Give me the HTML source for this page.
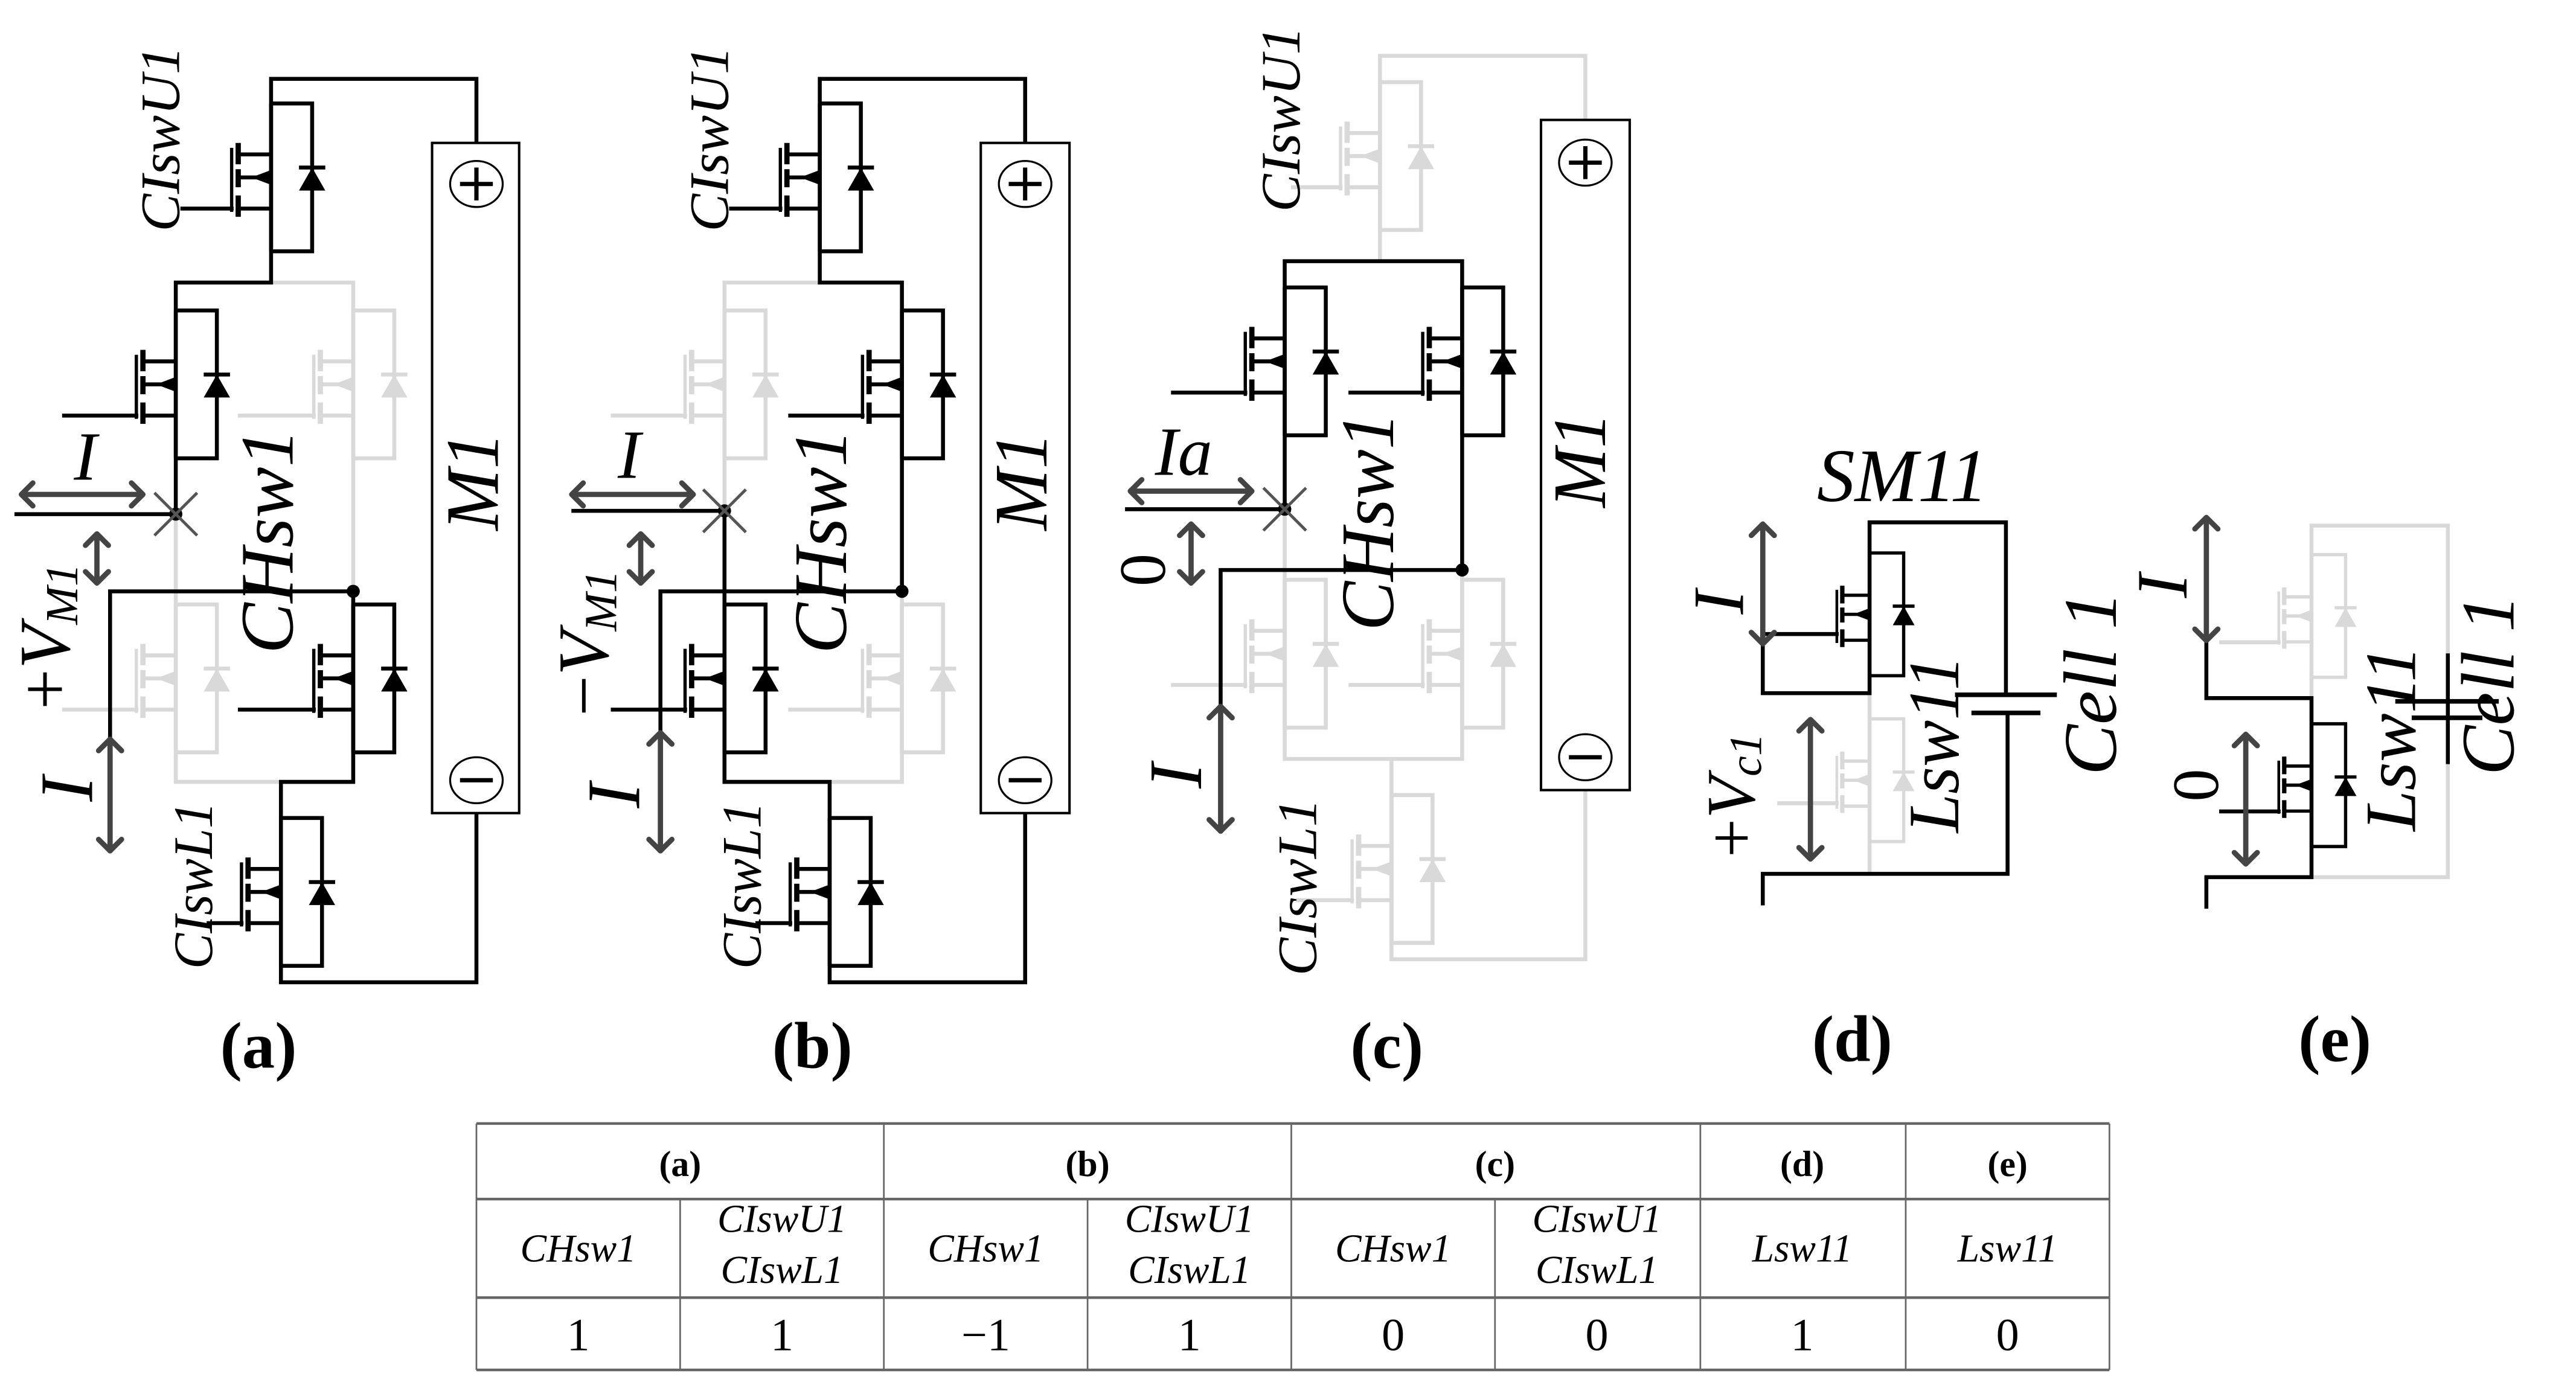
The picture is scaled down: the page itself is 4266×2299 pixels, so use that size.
<!DOCTYPE html>
<html><head><meta charset="utf-8">
<style>
html,body{margin:0;padding:0;background:#fff;}
svg{display:block;}
.w{fill:none;stroke:#000;stroke-width:2.4;stroke-linecap:square;stroke-linejoin:miter}
.g{fill:none;stroke:#d9d9d9;stroke-width:2.4;stroke-linecap:square}
.a{fill:none;stroke:#444;stroke-width:3.2;stroke-linecap:round;stroke-linejoin:round}
.x{stroke:#555;stroke-width:1.8}
text{font-family:"Liberation Serif",serif;}
.it{font-style:italic}
.t{font-family:"Liberation Serif",serif;}
</style></head>
<body>
<svg width="4266" height="2299" viewBox="0 0 1568 845" xmlns="http://www.w3.org/2000/svg">
<defs>
<g id="m">
  <path d="M0,-45 V45 M0,-45 H25 V45 H0 M-20,-14 H0 M-20,19 H0 M-20,0 H-4" fill="none" stroke="currentColor" stroke-width="2.4"/>
  <polygon points="-12,0 0,-4.5 0,4.5" fill="currentColor"/>
  <path d="M-20,-21 V-8 M-20,-5 V6 M-20,11 V24" stroke="currentColor" stroke-width="3.2" fill="none"/>
  <path d="M-24,-18 V21" stroke="currentColor" stroke-width="2" fill="none"/>
  <polygon points="17,8 33,8 25,-6" fill="currentColor"/>
  <path d="M17,-6 H33" stroke="currentColor" stroke-width="2.4"/>
</g>
</defs>
<rect width="1568" height="845" fill="#fff"/>

<!-- ===== Panel (a) ===== -->
<path class="g" d="M165,172 H215 V360 M107,313 V476 H171 M146,253 H191 M39,432 H83"/>
<g style="color:#d9d9d9"><use href="#m" transform="translate(215,234)"/><use href="#m" transform="translate(107,413)"/></g>
<path class="w" d="M165,48 H290 V87 M290,495 V598 H171 M165,48 V172 M107,172 H165 M107,172 V313 M10,313 H107 M67,518 V360 H215 M215,360 V476 M171,476 H215 M171,476 V598 M111,127 H141 M39,253 H83 M146,432 H191 M127,562 H147"/>
<g style="color:#000"><use href="#m" transform="translate(165,108)"/><use href="#m" transform="translate(107,234)"/><use href="#m" transform="translate(215,413)"/><use href="#m" transform="translate(171,543)"/></g>
<circle cx="107" cy="313" r="4"/><circle cx="215" cy="360" r="4"/>
<path class="x" d="M94,300 L120,326 M120,300 L94,326"/>
<path class="a" d="M13,301 H87 M20,294 L13,301 L20,308 M80,294 L87,301 L80,308"/>
<path class="a" d="M59,325 V355 M52,332 L59,325 L66,332 M52,348 L59,355 L66,348"/>
<path class="a" d="M67,450 V518 M60,457 L67,450 L74,457 M60,511 L67,518 L74,511"/>
<rect x="263" y="87" width="53" height="408" fill="#fff" stroke="#000" stroke-width="1.5"/>
<ellipse cx="290" cy="112" rx="16" ry="14" fill="none" stroke="#000" stroke-width="1.2"/>
<path d="M280,112 H300 M290,102 V122" stroke="#000" stroke-width="2.6"/>
<ellipse cx="290" cy="475" rx="16" ry="14" fill="none" stroke="#000" stroke-width="1.2"/>
<path d="M280,475 H300" stroke="#000" stroke-width="2.6"/>

<text class="it" font-size="34" transform="translate(109,141) rotate(-90)" textLength="113" lengthAdjust="spacingAndGlyphs">CIswU1</text>
<text class="it" font-size="46" transform="translate(178,398) rotate(-90)" textLength="137" lengthAdjust="spacingAndGlyphs">CHsw1</text>
<text class="it" font-size="34" transform="translate(129,590) rotate(-90)" textLength="102" lengthAdjust="spacingAndGlyphs">CIswL1</text>
<text class="it" font-size="46" transform="translate(303,323) rotate(-90)" textLength="60" lengthAdjust="spacingAndGlyphs">M1</text>
<text class="it" font-size="46" transform="translate(56,488) rotate(-90)">I</text>
<text class="it" font-size="42" x="45" y="292">I</text>
<text font-size="44" transform="translate(42,432) rotate(-90)">+<tspan class="it">V</tspan><tspan class="it" font-size="28" dy="5">M1</tspan></text>
<text font-size="40" font-weight="bold" x="134" y="650">(a)</text>

<!-- ===== Panel (b) ===== -->
<path class="g" d="M441,172 H499 M441,172 V311 M549,360 V476 H505 M373,253 H417 M481,432 H525"/>
<g style="color:#d9d9d9"><use href="#m" transform="translate(441,234)"/><use href="#m" transform="translate(549,413)"/></g>
<path class="w" d="M499,48 H624 V87 M624,495 V598 H505 M499,48 V172 H549 M549,172 V360 M349,311 H441 M402,518 V360 H549 M441,311 V476 H505 M505,476 V598 M445,127 H475 M481,253 H525 M373,432 H417 M461,562 H481"/>
<g style="color:#000"><use href="#m" transform="translate(499,108)"/><use href="#m" transform="translate(549,234)"/><use href="#m" transform="translate(441,413)"/><use href="#m" transform="translate(505,543)"/></g>
<circle cx="441" cy="311" r="4"/><circle cx="549" cy="360" r="4"/>
<path class="x" d="M428,298 L454,324 M454,298 L428,324"/>
<path class="a" d="M348,301 H422 M355,294 L348,301 L355,308 M415,294 L422,301 L415,308"/>
<path class="a" d="M390,325 V355 M383,332 L390,325 L397,332 M383,348 L390,355 L397,348"/>
<path class="a" d="M402,446 V518 M395,453 L402,446 L409,453 M395,511 L402,518 L409,511"/>
<rect x="597" y="87" width="54" height="408" fill="#fff" stroke="#000" stroke-width="1.5"/>
<ellipse cx="624" cy="112" rx="16" ry="14" fill="none" stroke="#000" stroke-width="1.2"/>
<path d="M614,112 H634 M624,102 V122" stroke="#000" stroke-width="2.6"/>
<ellipse cx="624" cy="475" rx="16" ry="14" fill="none" stroke="#000" stroke-width="1.2"/>
<path d="M614,475 H634" stroke="#000" stroke-width="2.6"/>

<text class="it" font-size="34" transform="translate(443,141) rotate(-90)" textLength="113" lengthAdjust="spacingAndGlyphs">CIswU1</text>
<text class="it" font-size="46" transform="translate(515,398) rotate(-90)" textLength="137" lengthAdjust="spacingAndGlyphs">CHsw1</text>
<text class="it" font-size="34" transform="translate(463,590) rotate(-90)" textLength="102" lengthAdjust="spacingAndGlyphs">CIswL1</text>
<text class="it" font-size="46" transform="translate(637,323) rotate(-90)" textLength="60" lengthAdjust="spacingAndGlyphs">M1</text>
<text class="it" font-size="46" transform="translate(389,492) rotate(-90)">I</text>
<text class="it" font-size="42" x="376" y="291">I</text>
<text font-size="44" transform="translate(370,436) rotate(-90)">−<tspan class="it">V</tspan><tspan class="it" font-size="28" dy="5">M1</tspan></text>
<text font-size="40" font-weight="bold" x="470" y="650">(b)</text>

<!-- ===== Panel (c) ===== -->
<path class="g" d="M840,34 H965 V73 M965,481 V584 H847 M840,34 V159 M782,310 V462 H890 M890,347 V462 M847,462 V584 M787,114 H816 M714,417 H758 M822,417 H866 M790,548 H823"/>
<g style="color:#d9d9d9"><use href="#m" transform="translate(840,95)"/><use href="#m" transform="translate(782,398)"/><use href="#m" transform="translate(890,398)"/><use href="#m" transform="translate(847,529)"/></g>
<path class="w" d="M782,159 H890 M782,159 V310 M890,159 V347 M686,310 H782 M743,506 V347 H890 M714,239 H758 M822,239 H866"/>
<g style="color:#000"><use href="#m" transform="translate(782,220)"/><use href="#m" transform="translate(890,220)"/></g>
<circle cx="782" cy="310" r="4"/><circle cx="890" cy="347" r="4"/>
<path class="x" d="M769,297 L795,323 M795,297 L769,323"/>
<path class="a" d="M688,299 H762 M695,292 L688,299 L695,306 M755,292 L762,299 L755,306"/>
<path class="a" d="M725,319 V355 M718,326 L725,319 L732,326 M718,348 L725,355 L732,348"/>
<path class="a" d="M743,430 V506 M736,437 L743,430 L750,437 M736,499 L743,506 L750,499"/>
<rect x="938" y="73" width="54" height="408" fill="#fff" stroke="#000" stroke-width="1.5"/>
<ellipse cx="965" cy="99" rx="16" ry="14" fill="none" stroke="#000" stroke-width="1.2"/>
<path d="M955,99 H975 M965,89 V109" stroke="#000" stroke-width="2.6"/>
<ellipse cx="965" cy="461" rx="16" ry="14" fill="none" stroke="#000" stroke-width="1.2"/>
<path d="M955,461 H975" stroke="#000" stroke-width="2.6"/>

<text class="it" font-size="34" transform="translate(791,129) rotate(-90)" textLength="113" lengthAdjust="spacingAndGlyphs">CIswU1</text>
<text class="it" font-size="46" transform="translate(848,384) rotate(-90)" textLength="133" lengthAdjust="spacingAndGlyphs">CHsw1</text>
<text class="it" font-size="34" transform="translate(801,594) rotate(-90)" textLength="108" lengthAdjust="spacingAndGlyphs">CIswL1</text>
<text class="it" font-size="46" transform="translate(977,309) rotate(-90)" textLength="58" lengthAdjust="spacingAndGlyphs">M1</text>
<text class="it" font-size="42" x="703" y="289">Ia</text>
<text font-size="40" transform="translate(709,357) rotate(-90)">0</text>
<text class="it" font-size="46" transform="translate(731,480) rotate(-90)">I</text>
<text font-size="40" font-weight="bold" x="822" y="650">(c)</text>

<!-- ===== Panel (d) ===== -->
<path class="g" d="M1138,422 V532 M1083,489 H1118"/>
<g style="color:#d9d9d9"><use href="#m" transform="translate(1138,475) scale(0.83)"/></g>
<path class="w" d="M1138,318 H1221 V423 M1222,434 V532 H1073 V550 M1138,318 V422 H1073 V386 M1073,386 H1118"/>
<path d="M1190,423 H1252 M1200,434 H1242" stroke="#000" stroke-width="2.8"/>
<g style="color:#000"><use href="#m" transform="translate(1138,374) scale(0.83)"/></g>
<path class="a" d="M1073,319 V392 M1066,326 L1073,319 L1080,326 M1066,385 L1073,392 L1080,385"/>
<path class="a" d="M1102,438 V523 M1095,445 L1102,438 L1109,445 M1095,516 L1102,523 L1109,516"/>
<text class="it" font-size="46" x="1106" y="305" textLength="104" lengthAdjust="spacingAndGlyphs">SM11</text>
<text class="it" font-size="44" transform="translate(1061,374) rotate(-90)">I</text>
<text font-size="42" transform="translate(1068,522) rotate(-90)">+<tspan class="it">V</tspan><tspan class="it" font-size="28" dy="4">c1</tspan></text>
<text class="it" font-size="44" transform="translate(1192,507) rotate(-90)" textLength="108" lengthAdjust="spacingAndGlyphs">Lsw11</text>
<text class="it" font-size="46" transform="translate(1288,472) rotate(-90)" textLength="112" lengthAdjust="spacingAndGlyphs">Cell 1</text>
<text font-size="40" font-weight="bold" x="1103" y="646">(d)</text>

<!-- ===== Panel (e) ===== -->
<path class="g" d="M1407,320 H1490 V534 H1407 M1407,320 V425 M1352,391 H1387"/>
<g style="color:#d9d9d9"><use href="#m" transform="translate(1407,375) scale(0.83)"/></g>
<path class="w" d="M1343,390 V425 H1407 V534 H1343 V552 M1352,494 H1387 M1490,399 V464"/>
<path d="M1458,427 H1521 M1468,437 H1511" stroke="#000" stroke-width="2.8"/>
<g style="color:#000"><use href="#m" transform="translate(1407,478) scale(0.83)"/></g>
<path class="a" d="M1343,315 V390 M1336,322 L1343,315 L1350,322 M1336,383 L1343,390 L1350,383"/>
<path class="a" d="M1367,447 V526 M1360,454 L1367,447 L1374,454 M1360,519 L1367,526 L1374,519"/>
<text class="it" font-size="44" transform="translate(1331,364) rotate(-90)">I</text>
<text font-size="40" transform="translate(1350,488) rotate(-90)">0</text>
<text class="it" font-size="44" transform="translate(1470,506) rotate(-90)" textLength="113" lengthAdjust="spacingAndGlyphs">Lsw11</text>
<text class="it" font-size="46" transform="translate(1530,472) rotate(-90)" textLength="110" lengthAdjust="spacingAndGlyphs">Cell 1</text>
<text font-size="40" font-weight="bold" x="1399" y="646">(e)</text>

<!-- ===== Table ===== -->
<g stroke="#666" fill="none">
<path d="M290,684 H1284 M290,730 H1284 M290,790 H1284 M290,834 H1284" stroke-width="1.6"/>
<path d="M290,684 V834 M538,684 V834 M786,684 V834 M1035,684 V834 M1160,684 V834 M1284,684 V834 M414,730 V834 M662,730 V834 M910,730 V834" stroke-width="1"/>
</g>
<g font-size="22" font-weight="bold" text-anchor="middle">
<text x="414" y="716">(a)</text><text x="662" y="716">(b)</text><text x="910" y="716">(c)</text><text x="1097" y="716">(d)</text><text x="1222" y="716">(e)</text>
</g>
<g class="it" font-size="24" text-anchor="middle">
<text x="352" y="768">CHsw1</text><text x="600" y="768">CHsw1</text><text x="848" y="768">CHsw1</text>
<text x="476" y="750">CIswU1</text><text x="476" y="781">CIswL1</text>
<text x="724" y="750">CIswU1</text><text x="724" y="781">CIswL1</text>
<text x="972" y="750">CIswU1</text><text x="972" y="781">CIswL1</text>
<text x="1097" y="768">Lsw11</text><text x="1222" y="768">Lsw11</text>
</g>
<g font-size="28" text-anchor="middle" style="font-family:'Liberation Sans',sans-serif">
<text x="352" y="822">1</text><text x="476" y="822">1</text><text x="600" y="822">−1</text><text x="724" y="822">1</text>
<text x="848" y="822">0</text><text x="972" y="822">0</text><text x="1097" y="822">1</text><text x="1222" y="822">0</text>
</g>
</svg>
</body></html>
